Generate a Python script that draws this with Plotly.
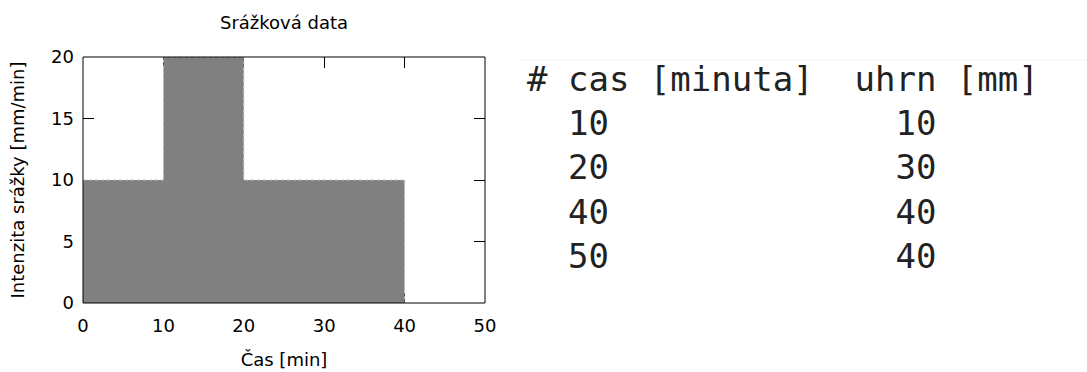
import plotly.graph_objects as go

# Data table shown on the right (time [min], cumulative rainfall [mm])
cas_minuta = [10, 20, 40, 50]
uhrn_mm = [10, 30, 40, 40]

# Chart: rainfall intensity per interval (step from interval start)
interval_start = [0, 10, 20, 40]
intenzita = [10, 20, 10, 0]

x_ticks = [0, 10, 20, 30, 40, 50]
y_ticks = [0, 5, 10, 15, 20]

W, H = 1087, 372
L, R, T, B = 83, 485, 57, 303

def px_x(p):
    return (p - L) / (R - L)

def px_y(p):
    return (B - p) / (B - T)

fig = go.Figure()
fig.add_trace(go.Scatter(
    x=interval_start, y=intenzita,
    mode="lines", line_shape="hv",
    line=dict(color="#c8c8c8", width=1, dash="dot"),
    fill="tozeroy", fillcolor="#808080",
    hoverinfo="skip", showlegend=False,
))

axis_font = dict(family="DejaVu Sans", size=18, color="#000000")
fig.update_xaxes(
    range=[0, 50], tickvals=x_ticks, ticks="inside", ticklen=11, tickcolor="#000",
    mirror="ticks", showline=False, showgrid=False, zeroline=False, automargin=False,
    layer="below traces", tickfont=axis_font, ticklabelstandoff=10,
    title=dict(text="Čas [min]", font=axis_font, standoff=18),
)
fig.update_yaxes(
    range=[0, 20], tickvals=y_ticks, ticks="inside", ticklen=11, tickcolor="#000",
    mirror="ticks", showline=False, showgrid=False, zeroline=False, automargin=False,
    layer="below traces", tickfont=axis_font, ticklabelstandoff=8,
    title=dict(text="Intenzita srážky [mm/min]", font=axis_font, standoff=21),
)

# frame on top of the fill
fig.add_shape(type="rect", xref="paper", yref="paper", x0=0, x1=1, y0=0, y1=1,
              line=dict(color="#000", width=1), layer="above")
# faint separator above the table
fig.add_shape(type="line", xref="paper", yref="paper",
              x0=px_x(522), x1=px_x(1087), y0=px_y(60), y1=px_y(60),
              line=dict(color="#eef2f6", width=1), layer="above")

nb = "\u00a0"
def row(a, b):
    s = nb * 2 + str(a)
    s = s + nb * (18 - len(s)) + str(b)
    return s

header = "#" + nb + "cas" + nb + "[minuta]" + nb * 2 + "uhrn" + nb + "[mm]"
lines = [header] + [row(a, b) for a, b in zip(cas_minuta, uhrn_mm)]

fig.add_annotation(
    xref="paper", yref="paper", x=px_x(525), y=px_y(167),
    xanchor="left", yanchor="middle", align="left", showarrow=False,
    text="<br>".join(lines),
    font=dict(family="DejaVu Sans Mono", size=34, color="#222222"),
)

fig.update_layout(
    width=W, height=H,
    margin=dict(l=L, r=W - R, t=T, b=H - B, autoexpand=False),
    paper_bgcolor="white", plot_bgcolor="white",
    title=dict(text="Srážková data", xref="container", x=284 / W, xanchor="center",
               yref="container", y=1 - 23 / H, yanchor="middle",
               font=dict(family="DejaVu Sans", size=18, color="#000")),
)

fig.write_html("out.html")
